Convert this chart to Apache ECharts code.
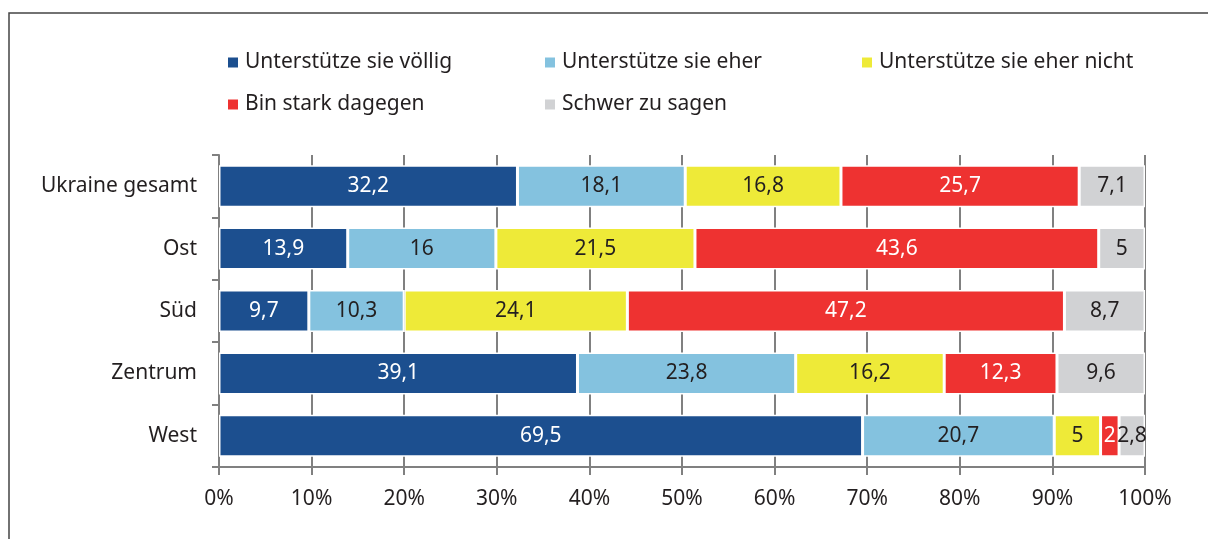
<!DOCTYPE html>
<html>
<head>
<meta charset="utf-8">
<script src="https://cdn.jsdelivr.net/npm/echarts@6/dist/echarts.min.js"></script>
<style>
  html, body { margin: 0; padding: 0; background: #fff; }
  #chart { width: 1208px; height: 539px; }
</style>
</head>
<body>
<div id="chart"></div>
<script>
// Regionen (oben nach unten)
const regions = ['Ukraine gesamt', 'Ost', 'Süd', 'Zentrum', 'West']

const seriesNames = [
  'Unterstütze sie völlig',
  'Unterstütze sie eher',
  'Unterstütze sie eher nicht',
  'Bin stark dagegen',
  'Schwer zu sagen',
]

// Werte in Prozent, je Antwort
const voellig = [32.2, 13.9, 9.7, 39.1, 69.5]
const eher = [18.1, 16, 10.3, 23.8, 20.7]
const eherNicht = [16.8, 21.5, 24.1, 16.2, 5]
const dagegen = [25.7, 43.6, 47.2, 12.3, 2]
const schwer = [7.1, 5, 8.7, 9.6, 2.8]

const xTicks = [0, 10, 20, 30, 40, 50, 60, 70, 80, 90, 100]

const colors = ['#1c4f8f', '#84c2df', '#eeea38', '#ee3231', '#d1d2d4']
const labelColors = ['#ffffff', '#231f20', '#231f20', '#ffffff', '#231f20']

const allValues = [voellig, eher, eherNicht, dagegen, schwer]
const FONT = '"Noto Sans", sans-serif'
const TEXT = '#231f20'
const FS = 21

// 100%-gestapelt: jede Zeile auf ihre Summe normieren
const rowSums = regions.map((_, i) => allValues.reduce((s, arr) => s + arr[i], 0))

const chart = echarts.init(document.getElementById('chart'))

const legendLeft = [228, 545, 862, 228, 545]
const legendTop = [52, 94]

chart.setOption({
  animation: false,
  textStyle: { fontFamily: FONT },
  graphic: [
    {
      type: 'polyline',
      shape: { points: [[9, 539], [9, 13], [1208, 13]] },
      style: { stroke: '#444', lineWidth: 1.5, fill: null },
      silent: true,
    },
  ],
  legend: seriesNames.map((name, i) => ({
    data: [name],
    left: legendLeft[i],
    top: i < 3 ? legendTop[0] : legendTop[1],
    padding: 0,
    icon: 'rect',
    itemWidth: 10,
    itemHeight: 10,
    itemGap: 0,
    itemStyle: { borderWidth: 0 },
    textStyle: { fontSize: FS, color: TEXT, fontFamily: FONT, padding: [0, 0, 0, 2] },
    selectedMode: false,
  })),
  grid: {
    left: 219,
    right: 63,
    top: 155,
    bottom: 72,
    containLabel: false,
  },
  xAxis: {
    type: 'value',
    min: 0,
    max: 100,
    interval: 10,
    axisLine: { show: true, lineStyle: { color: '#808080', width: 2 } },
    axisTick: { show: true, length: 8, lineStyle: { color: '#808080', width: 2 } },
    splitLine: { show: true, lineStyle: { color: '#808080', width: 2 } },
    axisLabel: {
      formatter: (v) => (xTicks.includes(v) ? v + '%' : ''),
      color: TEXT,
      fontSize: FS,
      margin: 22,
    },
  },
  yAxis: {
    type: 'category',
    inverse: true,
    data: regions,
    axisLine: { show: true, lineStyle: { color: '#808080', width: 2 } },
    axisTick: { show: true, length: 7, lineStyle: { color: '#808080', width: 2 } },
    axisLabel: { color: TEXT, fontSize: FS, margin: 22 },
    splitLine: { show: false },
  },
  series: seriesNames.map((name, s) => ({
    name,
    type: 'bar',
    stack: 'total',
    barWidth: 42,
    itemStyle: { color: colors[s], borderColor: '#ffffff', borderWidth: 1.5 },
    label: {
      show: true,
      position: 'inside',
      color: labelColors[s],
      fontSize: FS,
      fontFamily: FONT,
      formatter: (p) => String(p.data.raw).replace('.', ','),
    },
    data: allValues[s].map((v, i) => ({ value: (v / rowSums[i]) * 100, raw: v })),
  })),
})
</script>
</body>
</html>
